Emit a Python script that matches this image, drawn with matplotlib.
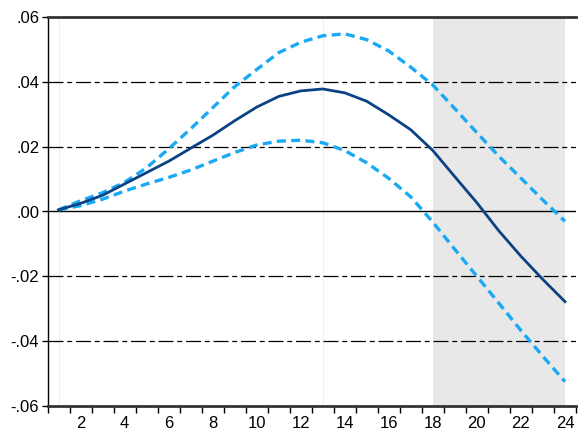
import matplotlib
matplotlib.use("Agg")
import matplotlib.pyplot as plt
import numpy as np

# horizon (periods) and response estimates
periods = list(range(1, 25))
response = [0.0005, 0.0025, 0.0050, 0.0085, 0.0120, 0.0155, 0.0195, 0.0235,
            0.0280, 0.0322, 0.0355, 0.0372, 0.0378, 0.0366, 0.0340, 0.0298,
            0.0252, 0.0188, 0.0107, 0.0027, -0.0060, -0.0138, -0.0210, -0.0278]
upper = [0.0005, 0.0033, 0.0058, 0.0090, 0.0135, 0.0193, 0.0255, 0.0320,
         0.0385, 0.0438, 0.0490, 0.0522, 0.0542, 0.0548, 0.0530, 0.0495,
         0.0445, 0.0390, 0.0317, 0.0243, 0.0170, 0.0103, 0.0035, -0.0030]
lower = [0.0005, 0.0018, 0.0038, 0.0063, 0.0085, 0.0105, 0.0128, 0.0155,
         0.0182, 0.0205, 0.0217, 0.0220, 0.0212, 0.0188, 0.0150, 0.0102,
         0.0045, -0.0033, -0.0117, -0.0200, -0.0283, -0.0367, -0.0447, -0.0525]

shade_start, shade_end = 18, 24
yticks = [-0.06, -0.04, -0.02, 0.0, 0.02, 0.04, 0.06]
ytick_labels = ["-.06", "-.04", "-.02", ".00", ".02", ".04", ".06"]
xtick_labels = list(range(2, 25, 2))

plt.rcParams['font.family'] = ['Liberation Sans', 'DejaVu Sans']

fig = plt.figure(figsize=(5.78, 4.36), dpi=100)
ax = fig.add_axes([47.5 / 578, 30 / 436, (576 - 47.5) / 578, (406 - 17) / 436])

ax.axvspan(shade_start, shade_end, color='#e8e8e8', lw=0, zorder=0)
for xv in (1, 13):
    ax.axvline(xv, color='#eeeeee', lw=0.8, zorder=0.5)

for yv in yticks[1:-1]:
    if yv == 0:
        ax.axhline(yv, color='black', lw=1.0, zorder=1)
    else:
        ax.axhline(yv, color='black', lw=0.9, dashes=(12, 3, 4, 3), zorder=1)

ax.plot(periods, upper, color='#1aa9f5', lw=2.4, dashes=(2.7, 1.6), zorder=3)
ax.plot(periods, lower, color='#1aa9f5', lw=2.4, dashes=(2.7, 1.6), zorder=3)
ax.plot(periods, response, color='#0a4284', lw=2.0, zorder=4)

ax.set_xlim(0.5, 24.5)
ax.set_ylim(-0.06, 0.06)

ax.set_yticks(yticks)
ax.set_yticklabels(ytick_labels)
ax.set_xticks(xtick_labels)
ax.set_xticklabels([str(v) for v in xtick_labels])
ax.set_xticks(np.arange(0.5, 25, 1.0), minor=True)
ax.tick_params(axis='x', which='major', length=0, labelsize=12, pad=7)
ax.tick_params(axis='x', which='minor', length=5, width=1, color='black', direction='out')
ax.tick_params(axis='y', which='major', length=4, width=1, labelsize=12, pad=2, direction='out')

ax.spines['right'].set_visible(False)
ax.spines['top'].set_color('#333333')
ax.spines['top'].set_linewidth(2.0)
ax.spines['bottom'].set_color('#333333')
ax.spines['bottom'].set_linewidth(2.0)
ax.spines['left'].set_color('black')
ax.spines['left'].set_linewidth(1.0)

fig.savefig("out.png", dpi=100)
plt.close()
